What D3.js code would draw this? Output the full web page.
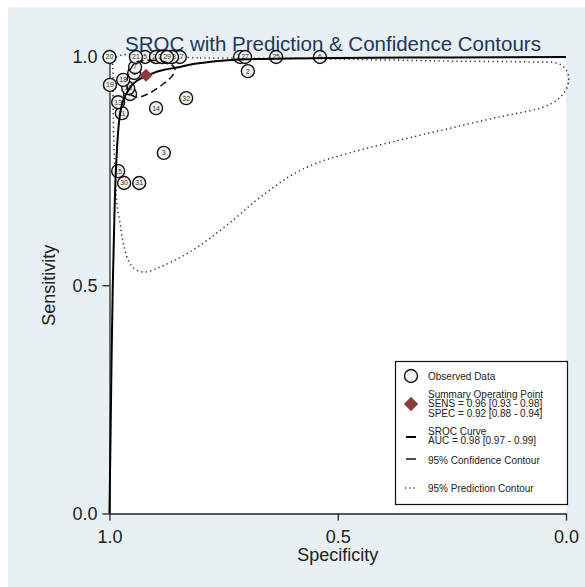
<!DOCTYPE html>
<html><head><meta charset="utf-8">
<script src="https://cdn.jsdelivr.net/npm/d3@7"></script>
<style>body{margin:0;background:#fff;} text{font-family:Arial,"Liberation Sans",sans-serif;}</style>
</head><body>
<svg id="chart" width="585" height="587"></svg>
<script>
// ---- data ----
const studyLabels = ["1","2","3","4","5","6","7","8","9","10","11","12","13","14","15","16","17","18","19","20","21","22","23","24","25","26","27","28","29","30","31","32"];
const studySpec = [0.946,0.697,0.881,0.874,0.922,0.539,0.944,0.885,0.955,0.863,0.973,0.898,0.981,0.898,0.981,0.959,0.846,0.970,0.999,1.000,0.942,0.898,0.885,0.874,0.635,0.714,0.703,0.863,0.874,0.968,0.935,0.832];
const studySens = [0.965,0.969,0.790,1.000,1.000,1.000,0.978,1.000,0.919,1.000,0.877,1.000,0.901,0.888,0.750,0.932,1.000,0.950,0.939,1.000,1.000,1.000,1.000,1.000,1.000,1.000,1.000,1.000,1.000,0.724,0.724,0.910];
const summarySpec = 0.92, summarySens = 0.96;
// SROC curve (specificity, sensitivity)
const srocSpec = [1.000,0.998,0.996,0.993,0.990,0.986,0.977,0.960,0.940,0.916,0.880,0.846,0.800,0.700,0.500,0.250,0.000];
const srocSens = [0.000,0.150,0.300,0.490,0.620,0.750,0.875,0.925,0.948,0.960,0.972,0.978,0.987,0.995,0.998,0.999,1.000];
// 95% confidence contour
const confSpec = [0.944,0.911,0.878,0.857,0.863,0.889,0.916,0.938,0.955,0.962,0.957,0.944];
const confSens = [0.989,0.993,0.989,0.976,0.958,0.936,0.919,0.912,0.919,0.939,0.967,0.989];
// 95% prediction contour
const predSpec = [0.988,0.802,0.539,0.254,0.079,0.015,-0.002,-0.006,0.002,0.024,0.057,0.145,0.254,0.364,0.474,0.550,0.605,0.648,0.686,0.729,0.780,0.824,0.861,0.894,0.922,0.944,0.959,0.970,0.977,0.984,0.986,0.990,0.992,0.992];
const predSens = [0.998,0.998,0.996,0.991,0.989,0.985,0.969,0.950,0.925,0.903,0.888,0.869,0.844,0.818,0.790,0.766,0.739,0.709,0.680,0.643,0.603,0.573,0.553,0.538,0.529,0.535,0.555,0.593,0.637,0.680,0.715,0.796,0.884,0.960];
const xTicks = [1.0,0.5,0.0];
const yTicks = [0.0,0.5,1.0];
const legendLabels = [["Observed Data"],["Summary Operating Point","SENS = 0.96 [0.93 - 0.98]","SPEC = 0.92 [0.88 - 0.94]"],["SROC Curve","AUC = 0.98 [0.97 - 0.99]"],["95% Confidence Contour"],["95% Prediction Contour"]];

// ---- drawing ----
const svg = d3.select("#chart");
svg.append("rect").attr("x",8).attr("y",7).attr("width",577).attr("height",580).attr("fill","#e8f0f3");
const x = d3.scaleLinear().domain([1,0]).range([109.5,566]);
const y = d3.scaleLinear().domain([0,1]).range([513.5,57]);
svg.append("rect").attr("x",x(1)).attr("y",y(1)).attr("width",x(0)-x(1)).attr("height",y(0)-y(1)).attr("fill","#fff");

// title
svg.append("text").attr("x",333).attr("y",51).attr("text-anchor","middle").attr("font-size",20.5).attr("fill","#22365c").text("SROC with Prediction & Confidence Contours");

// axes
const xAxis = svg.append("g").attr("transform",`translate(0,${y(0)})`)
  .call(d3.axisBottom(x).tickValues(xTicks).tickFormat(d3.format(".1f")).tickSize(7).tickSizeOuter(0).tickPadding(10));
const yAxis = svg.append("g").attr("transform",`translate(${x(1)},0)`)
  .call(d3.axisLeft(y).tickValues(yTicks).tickFormat(d3.format(".1f")).tickSize(7).tickSizeOuter(0).tickPadding(5));
[xAxis,yAxis].forEach(g=>{
  g.selectAll("text").attr("font-size",18).attr("fill","#222").attr("font-family","Arial, Liberation Sans, sans-serif");
  g.selectAll("path,line").attr("stroke","#222").attr("stroke-width",1.3);
});
svg.append("text").attr("x",x(0.5)).attr("y",561).attr("text-anchor","middle").attr("font-size",18).attr("fill","#222").text("Specificity");
svg.append("text").attr("transform",`translate(55,${y(0.5)}) rotate(-90)`).attr("text-anchor","middle").attr("font-size",18).attr("fill","#222").text("Sensitivity");

// prediction contour
svg.append("path").datum(predSpec.map((s,i)=>[s,predSens[i]]))
  .attr("d",d3.line().x(d=>x(d[0])).y(d=>y(d[1])).curve(d3.curveCatmullRomClosed))
  .attr("fill","none").attr("stroke","#333").attr("stroke-width",1.5).attr("stroke-dasharray","1.3,3.2");

// studies
const studies = studyLabels.map((l,i)=>({l,sp:studySpec[i],se:studySens[i]}));
const sg = svg.append("g").selectAll("g").data(studies).join("g")
  .attr("transform",d=>`translate(${x(d.sp)},${y(d.se)})`);
sg.append("circle").attr("r",6.5).attr("fill","#f0f0f0").attr("stroke","#111").attr("stroke-width",1.4);
sg.append("text").attr("text-anchor","middle").attr("dy","0.35em").attr("font-size",7).attr("fill","#333").text(d=>d.l);

// confidence contour
svg.append("path").datum(confSpec.map((s,i)=>[s,confSens[i]]))
  .attr("d",d3.line().x(d=>x(d[0])).y(d=>y(d[1])).curve(d3.curveCatmullRomClosed))
  .attr("fill","none").attr("stroke","#111").attr("stroke-width",1.5).attr("stroke-dasharray","7,4");
// SROC curve
svg.append("path").datum(srocSpec.map((s,i)=>[s,srocSens[i]]))
  .attr("d",d3.line().x(d=>x(d[0])).y(d=>y(d[1])).curve(d3.curveMonotoneY))
  .attr("fill","none").attr("stroke","#000").attr("stroke-width",2);
// summary point
svg.append("path").attr("d",d3.symbol().type(d3.symbolDiamond2).size(110)())
  .attr("transform",`translate(${x(summarySpec)},${y(summarySens)})`).attr("fill","#8b3a3e");

// legend
const lg = svg.append("g");
lg.append("rect").attr("x",395.5).attr("y",361.5).attr("width",172).attr("height",143).attr("fill","#fff").attr("stroke","#111").attr("stroke-width",1.2);
const rowY = [376,394,431,460,488];
legendLabels.forEach((lines,i)=>{
  lines.forEach((t,j)=>{
    lg.append("text").attr("x",428).attr("y",rowY[i]+j*9.6).attr("dy","0.35em").attr("font-size",10).attr("fill","#222").text(t);
  });
});
lg.append("circle").attr("cx",411).attr("cy",376).attr("r",6.5).attr("fill","#f0f0f0").attr("stroke","#111").attr("stroke-width",1.4);
lg.append("path").attr("d",d3.symbol().type(d3.symbolDiamond2).size(130)()).attr("transform","translate(411,404)").attr("fill","#8b3a3e");
lg.append("line").attr("x1",406).attr("x2",416).attr("y1",437).attr("y2",437).attr("stroke","#000").attr("stroke-width",2);
lg.append("line").attr("x1",406).attr("x2",416).attr("y1",459).attr("y2",459).attr("stroke","#111").attr("stroke-width",1.5);
lg.append("line").attr("x1",405).attr("x2",417).attr("y1",488).attr("y2",488).attr("stroke","#333").attr("stroke-width",1.3).attr("stroke-dasharray","1.2,3");
</script>
</body></html>
